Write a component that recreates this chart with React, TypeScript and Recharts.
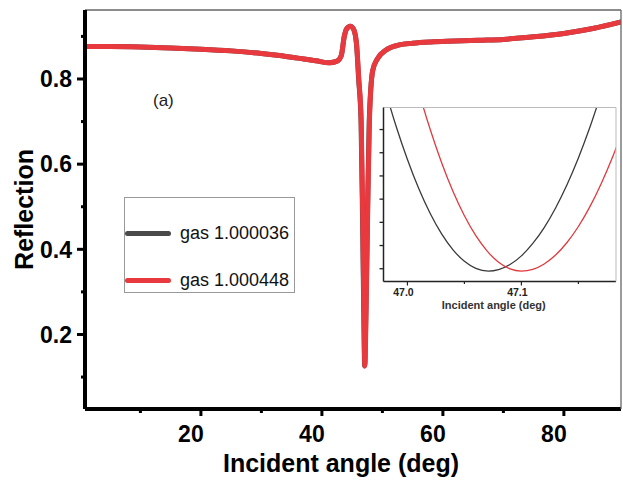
import React from 'react';
import { LineChart, Line, XAxis, YAxis, Legend } from 'recharts';

// ---------- main panel data ----------
const seriesNames = ['gas 1.000036', 'gas 1.000448'];
const seriesColors = ['#4a4a4a', '#e8393e'];

const angleLow = [1, 5, 10, 15, 20, 25, 30, 33, 36, 39, 41.2, 42.5, 43.2, 43.7, 44.1, 44.7, 45.2, 45.7, 46.07, 46.47, 46.72, 46.92, 47.07, 47.27, 47.52, 47.82, 48.4, 49.2, 50.6, 52.8, 55, 58, 62, 66, 70, 75, 80, 85, 89.5];
const reflLow = [0.876, 0.876, 0.875, 0.873, 0.870, 0.866, 0.860, 0.855, 0.849, 0.843, 0.838, 0.842, 0.855, 0.900, 0.918, 0.924, 0.918, 0.885, 0.800, 0.700, 0.470, 0.250, 0.126, 0.250, 0.470, 0.700, 0.820, 0.848, 0.868, 0.880, 0.884, 0.887, 0.889, 0.891, 0.893, 0.899, 0.907, 0.919, 0.934];

const angleHigh = [1, 5, 10, 15, 20, 25, 30, 33, 36, 39, 41.2, 42.5, 43.2, 43.7, 44.1, 44.7, 45.2, 45.7, 46.1, 46.5, 46.75, 46.95, 47.1, 47.3, 47.55, 47.85, 48.4, 49.2, 50.6, 52.8, 55, 58, 62, 66, 70, 75, 80, 85, 89.5];
const reflHigh = [0.876, 0.876, 0.875, 0.873, 0.870, 0.866, 0.860, 0.855, 0.849, 0.843, 0.838, 0.842, 0.855, 0.900, 0.918, 0.924, 0.918, 0.885, 0.800, 0.700, 0.470, 0.250, 0.126, 0.250, 0.470, 0.700, 0.820, 0.848, 0.868, 0.880, 0.884, 0.887, 0.889, 0.891, 0.893, 0.899, 0.907, 0.919, 0.934];

const mainXTicks = [10, 20, 30, 40, 50, 60, 70, 80];
const mainYTicks = [0.1, 0.2, 0.3, 0.4, 0.5, 0.6, 0.7, 0.8, 0.9];
const frameTicks = [1, 2, 3, 4, 5, 6, 7, 8, 9];

// ---------- inset data ----------
const insetAngleLow = [46.97, 46.98, 46.99, 47.0, 47.01, 47.02, 47.03, 47.04, 47.05, 47.06, 47.071, 47.08, 47.09, 47.1, 47.11, 47.12, 47.13, 47.14, 47.15, 47.16, 47.17];
const insetReflLow = [0.1452, 0.14158, 0.1383, 0.13541, 0.13289, 0.13076, 0.129, 0.12763, 0.12664, 0.12603, 0.1258, 0.12593, 0.12636, 0.12711, 0.12818, 0.12955, 0.13124, 0.13324, 0.13555, 0.13817, 0.14111];

const insetAngleHigh = [47.0, 47.01, 47.02, 47.03, 47.04, 47.05, 47.06, 47.07, 47.08, 47.09, 47.1, 47.11, 47.12, 47.13, 47.14, 47.15, 47.16, 47.17, 47.18, 47.19];
const insetReflHigh = [0.14486, 0.14124, 0.138, 0.13514, 0.13266, 0.13057, 0.12885, 0.12752, 0.12656, 0.12599, 0.1258, 0.12595, 0.12641, 0.12718, 0.12826, 0.12964, 0.13133, 0.13333, 0.13563, 0.13824];

const insetXTicks = [47.0, 47.05, 47.1, 47.15];
const insetYTicks = [0.126, 0.128, 0.13, 0.132, 0.134, 0.136, 0.138];
const insetRightTicks = [1, 2, 3, 4];

const toPoints = (xs: number[], ys: number[]) => xs.map((x, i) => ({ x, y: ys[i] }));

const mainLow = toPoints(angleLow, reflLow);
const mainHigh = toPoints(angleHigh, reflHigh);
const insetLow = toPoints(insetAngleLow, insetReflLow);
const insetHigh = toPoints(insetAngleHigh, insetReflHigh);

const FONT = '"Liberation Sans", Arial, sans-serif';

// ---------- custom ticks ----------
const BottomTick = (props: any) => {
  const { x, y, payload } = props;
  const major = Math.round(payload.value) % 20 === 0;
  return (
    <g>
      <line x1={x} x2={x} y1={y} y2={y + (major ? 7 : 4)} stroke="#000" strokeWidth={3} />
      {major && (
        <text x={x - 10} y={y + 33} textAnchor="middle" fontSize={23} fontWeight="bold" fontFamily={FONT} fill="#000">
          {payload.value}
        </text>
      )}
    </g>
  );
};

const LeftTick = (props: any) => {
  const { x, y, payload } = props;
  const major = Math.round(payload.value * 10) % 2 === 0;
  return (
    <g>
      <line x1={x} x2={x - (major ? 8 : 4)} y1={y} y2={y} stroke="#000" strokeWidth={3} />
      {major && (
        <text x={x - 13} y={y + 8.3} textAnchor="end" fontSize={23} fontWeight="bold" fontFamily={FONT} fill="#000">
          {payload.value.toFixed(1)}
        </text>
      )}
    </g>
  );
};

const TopTick = (props: any) => {
  const { x, y, payload } = props;
  const major = payload.value % 2 === 0;
  return <line x1={x} x2={x} y1={y} y2={y + (major ? 5 : 3)} stroke="#666" strokeWidth={1.3} />;
};

const RightTick = (props: any) => {
  const { x, y, payload } = props;
  const major = payload.value % 2 === 0;
  return <line x1={x} x2={x - (major ? 4 : 3)} y1={y} y2={y} stroke="#666" strokeWidth={1.3} />;
};

const InsetBottomTick = (props: any) => {
  const { x, y, payload } = props;
  const v = payload.value;
  const major = Math.abs(v * 10 - Math.round(v * 10)) < 1e-6;
  return (
    <g>
      <line x1={x} x2={x} y1={y} y2={y + (major ? 4 : 2.5)} stroke="#222" strokeWidth={1.2} />
      {major && (
        <text x={x - 4} y={y + 14.5} textAnchor="middle" fontSize={10.5} fontWeight="bold" fontFamily={FONT} fill="#222">
          {v.toFixed(1)}
        </text>
      )}
    </g>
  );
};

const InsetLeftTick = (props: any) => {
  const { x, y } = props;
  return <line x1={x} x2={x - 4} y1={y} y2={y} stroke="#222" strokeWidth={1.3} />;
};

const InsetTopTick = (props: any) => {
  const { x, y } = props;
  return <line x1={x} x2={x} y1={y} y2={y + 3} stroke="#aaa" strokeWidth={1} />;
};

const InsetRightTick = (props: any) => {
  const { x, y } = props;
  return <line x1={x} x2={x - 3} y1={y} y2={y} stroke="#aaa" strokeWidth={1} />;
};

// ---------- labels ----------
const xTitle = (props: any) => {
  const vb = props.viewBox;
  return (
    <text x={vb.x + vb.width / 2 - 12} y={vb.y + 63} textAnchor="middle" fontSize={25} fontWeight="bold" fontFamily={FONT} fill="#000">
      Incident angle (deg)
    </text>
  );
};

const yTitle = (props: any) => {
  const vb = props.viewBox;
  const cx = vb.x - 51;
  const cy = vb.y + vb.height / 2;
  return (
    <text x={cx} y={cy} transform={`rotate(-90, ${cx}, ${cy})`} textAnchor="middle" fontSize={25} fontWeight="bold" fontFamily={FONT} fill="#000">
      Reflection
    </text>
  );
};

const panelTag = (props: any) => {
  const vb = props.viewBox;
  return (
    <text x={vb.x + 68} y={vb.y + 97} fontSize={17} fontFamily={FONT} fill="#222">
      (a)
    </text>
  );
};

const insetXTitle = (props: any) => {
  const vb = props.viewBox;
  return (
    <text x={vb.x + vb.width / 2 - 6} y={vb.y + 27.5} textAnchor="middle" fontSize={11} fontWeight="bold" fontFamily={FONT} fill="#333">
      Incident angle (deg)
    </text>
  );
};

const LegendBox = (props: any) => {
  const payload = props.payload || [];
  return (
    <div
      style={{
        width: 171,
        height: 96,
        border: '1px solid #999',
        background: '#fff',
        position: 'relative',
        boxSizing: 'border-box',
      }}
    >
      {payload.map((p: any, i: number) => (
        <div
          key={i}
          style={{ position: 'absolute', left: 0, top: i === 0 ? 23 : 70, height: 24, display: 'flex', alignItems: 'center' }}
        >
          <div style={{ width: 46, height: 5, background: p.color, borderRadius: 2.5 }} />
          <span style={{ marginLeft: 9, fontFamily: FONT, fontSize: 18, color: '#111', whiteSpace: 'nowrap' }}>{p.value}</span>
        </div>
      ))}
    </div>
  );
};

export default function App() {
  return (
    <div style={{ position: 'absolute', left: 0, top: 0, width: 623, height: 484, background: '#fff' }}>
      <LineChart width={623} height={484} margin={{ top: 9, right: 1, bottom: 74, left: 84 }}>
        <XAxis
          xAxisId="main"
          type="number"
          dataKey="x"
          domain={[0.84, 89.44]}
          allowDataOverflow
          ticks={mainXTicks}
          interval={0}
          height={1}
          tickSize={0}
          tickMargin={0}
          tickLine={false}
          axisLine={{ stroke: '#000', strokeWidth: 4 }}
          tick={BottomTick}
          label={xTitle}
        />
        <XAxis
          xAxisId="top"
          orientation="top"
          type="number"
          domain={[0, 10]}
          ticks={frameTicks}
          interval={0}
          height={1}
          tickSize={0}
          tickMargin={0}
          tickLine={false}
          axisLine={{ stroke: '#666', strokeWidth: 1.3 }}
          tick={TopTick}
          label={panelTag}
        />
        <YAxis
          yAxisId="main"
          type="number"
          domain={[0.025, 0.962]}
          allowDataOverflow
          ticks={mainYTicks}
          interval={0}
          width={1}
          tickSize={0}
          tickMargin={0}
          tickLine={false}
          axisLine={{ stroke: '#000', strokeWidth: 4 }}
          tick={LeftTick}
          label={yTitle}
        />
        <YAxis
          yAxisId="right"
          orientation="right"
          type="number"
          domain={[0, 10]}
          ticks={frameTicks}
          interval={0}
          width={1}
          tickSize={0}
          tickMargin={0}
          tickLine={false}
          axisLine={{ stroke: '#666', strokeWidth: 1.3 }}
          tick={RightTick}
        />
        <Line
          xAxisId="main"
          yAxisId="main"
          data={mainLow}
          dataKey="y"
          name={seriesNames[0]}
          type="monotone"
          stroke={seriesColors[0]}
          strokeWidth={5}
          dot={false}
          isAnimationActive={false}
        />
        <Line
          xAxisId="main"
          yAxisId="main"
          data={mainHigh}
          dataKey="y"
          name={seriesNames[1]}
          type="monotone"
          stroke={seriesColors[1]}
          strokeWidth={5}
          dot={false}
          isAnimationActive={false}
        />
        <Legend
          layout="vertical"
          align="center"
          verticalAlign="middle"
          content={LegendBox}
          wrapperStyle={{ left: 124, top: 197, width: 171, height: 96 }}
        />
      </LineChart>

      <div style={{ position: 'absolute', left: 340, top: 95 }}>
        <LineChart width={281} height={225} margin={{ top: 11.5, right: 4, bottom: 37.5, left: 42.5 }}>
          <XAxis
            xAxisId="ix"
            type="number"
            dataKey="x"
            domain={[46.979, 47.183]}
            allowDataOverflow
            ticks={insetXTicks}
            interval={0}
            height={1}
            tickSize={0}
            tickMargin={0}
            tickLine={false}
            axisLine={{ stroke: '#222', strokeWidth: 1.5 }}
            tick={InsetBottomTick}
            label={insetXTitle}
          />
          <XAxis
            xAxisId="itop"
            orientation="top"
            type="number"
            domain={[0, 10]}
            ticks={frameTicks}
            interval={0}
            height={1}
            tickSize={0}
            tickMargin={0}
            tickLine={false}
            axisLine={{ stroke: '#bbb', strokeWidth: 1 }}
            tick={InsetTopTick}
          />
          <YAxis
            yAxisId="iy"
            type="number"
            domain={[0.1249, 0.1399]}
            allowDataOverflow
            ticks={insetYTicks}
            interval={0}
            width={1}
            tickSize={0}
            tickMargin={0}
            tickLine={false}
            axisLine={{ stroke: '#222', strokeWidth: 1.5 }}
            tick={InsetLeftTick}
          />
          <YAxis
            yAxisId="iright"
            orientation="right"
            type="number"
            domain={[0, 5]}
            ticks={insetRightTicks}
            interval={0}
            width={1}
            tickSize={0}
            tickMargin={0}
            tickLine={false}
            axisLine={{ stroke: '#bbb', strokeWidth: 1 }}
            tick={InsetRightTick}
          />
          <Line
            xAxisId="ix"
            yAxisId="iy"
            data={insetLow}
            dataKey="y"
            name={seriesNames[0]}
            type="monotone"
            stroke="#3a3a3a"
            strokeWidth={1.3}
            dot={false}
            isAnimationActive={false}
          />
          <Line
            xAxisId="ix"
            yAxisId="iy"
            data={insetHigh}
            dataKey="y"
            name={seriesNames[1]}
            type="monotone"
            stroke="#e0393e"
            strokeWidth={1.3}
            dot={false}
            isAnimationActive={false}
          />
        </LineChart>
      </div>
    </div>
  );
}
